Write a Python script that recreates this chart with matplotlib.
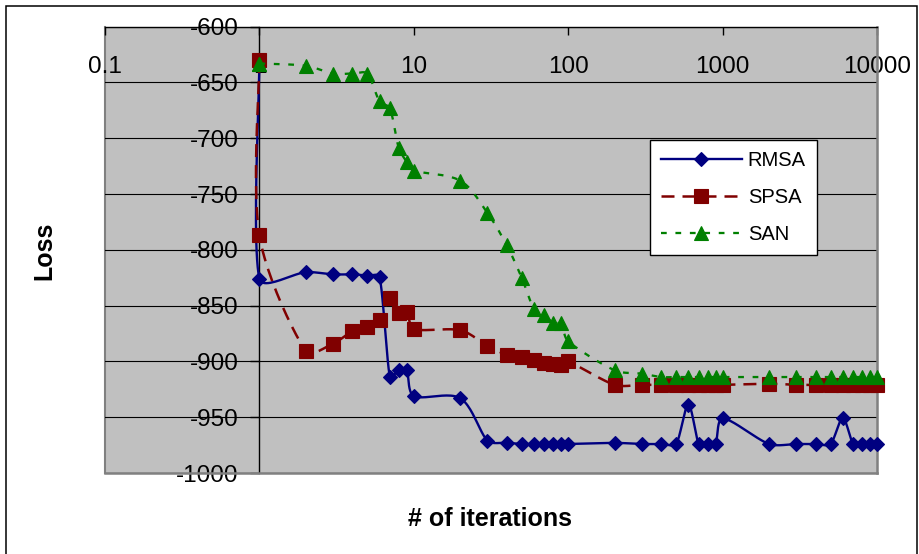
import numpy as np
import matplotlib
matplotlib.use("Agg")
import matplotlib.pyplot as plt
from matplotlib.lines import Line2D
from matplotlib.patches import Rectangle
from matplotlib.ticker import FixedLocator, FixedFormatter, NullLocator

plt.rcParams['font.family'] = ['Liberation Sans', 'DejaVu Sans']
plt.rcParams['axes.unicode_minus'] = False

# ---- data -------------------------------------------------------------
iterations = [1, 1, 2, 3, 4, 5, 6, 7, 8, 9, 10,
              20, 30, 40, 50, 60, 70, 80, 90, 100,
              200, 300, 400, 500, 600, 700, 800, 900, 1000,
              2000, 3000, 4000, 5000, 6000, 7000, 8000, 9000, 10000]

rmsa = [-630, -826, -820, -822, -822, -823, -824, -914, -908, -908, -931,
        -933, -971, -973, -974, -974, -974, -974, -974, -974,
        -973, -974, -974, -974, -939, -974, -974, -974, -951,
        -974, -974, -974, -974, -951, -974, -974, -974, -974]

spsa = [-630, -787, -891, -884, -873, -869, -863, -843, -857, -856, -871,
        -872, -886, -894, -896, -899, -901, -902, -903, -900,
        -921, -921, -921, -921, -921, -921, -921, -921, -921,
        -920, -921, -921, -921, -921, -921, -921, -921, -921]

san = [-633, -633, -635, -642, -642, -642, -667, -673, -709, -721, -729,
       -738, -767, -796, -825, -853, -858, -866, -866, -882,
       -908, -911, -914, -914, -914, -914, -914, -914, -914,
       -914, -914, -914, -914, -914, -914, -914, -914, -914]

series_names = ['RMSA', 'SPSA', 'SAN']
x_ticks = [0.1, 1, 10, 100, 1000, 10000]
x_tick_labels = ['0.1', '1', '10', '100', '1000', '10000']
y_ticks = [-1000, -950, -900, -850, -800, -750, -700, -650, -600]


def smooth_path(ax, xs, ys, n=24):
    """Bezier smoothing in display space; tangents are the shorter of the
    uniform Catmull-Rom and the chord-weighted estimate (limits overshoot)."""
    pts = ax.transData.transform(np.column_stack([xs, ys]).astype(float))
    m = len(pts)
    out = [pts[0]]
    t = np.linspace(0, 1, n)[1:, None]

    def tangent(i, seg_len):
        p_prev = pts[i - 1] if i > 0 else pts[i]
        p_next = pts[i + 1] if i + 1 < m else pts[i]
        l1 = np.hypot(*(pts[i] - p_prev))
        l2 = np.hypot(*(p_next - pts[i]))
        if l1 + l2 == 0:
            return np.zeros(2)
        uniform = (p_next - p_prev) / 6.0
        chord = (p_next - p_prev) * seg_len / (l1 + l2) / 3.0
        return uniform if np.hypot(*uniform) < np.hypot(*chord) else chord

    for i in range(m - 1):
        p1, p2 = pts[i], pts[i + 1]
        seg_len = np.hypot(*(p2 - p1))
        c1 = p1 + tangent(i, seg_len)
        c2 = p2 - tangent(i + 1, seg_len)
        seg = ((1 - t) ** 3) * p1 + 3 * ((1 - t) ** 2) * t * c1 \
            + 3 * (1 - t) * t ** 2 * c2 + t ** 3 * p2
        out.extend(seg)
    data = ax.transData.inverted().transform(np.array(out))
    return data[:, 0], data[:, 1]


fig = plt.figure(figsize=(9.2, 5.54), dpi=100)
fig.patch.set_facecolor('white')
ax = fig.add_axes([105 / 920, 81 / 554, 772 / 920, 446.3 / 554])
ax.set_facecolor('#C0C0C0')
ax.set_xscale('log')
ax.set_xlim(0.1, 10000)
ax.set_ylim(-1000, -600)

# spines: value axis crosses at x = 1, category axis along the top
ax.spines['left'].set_position(('data', 1))
ax.spines['left'].set_color('black')
ax.spines['left'].set_linewidth(1.0)
ax.spines['top'].set_color('black')
ax.spines['top'].set_linewidth(1.0)
for side in ('right', 'bottom'):
    ax.spines[side].set_color('#808080')
    ax.spines[side].set_linewidth(1.8)
ax.plot([0, 0], [0, 1], transform=ax.transAxes, color='#808080', lw=1.5,
        clip_on=False, zorder=0.4)

ax.set_yticks(y_ticks)
ax.tick_params(axis='y', direction='out', length=6.5, width=1.0,
               labelsize=17.5, pad=8.5, left=True, right=False)
ax.xaxis.set_major_locator(FixedLocator(x_ticks))
ax.xaxis.set_major_formatter(FixedFormatter(x_tick_labels))
ax.xaxis.set_minor_locator(NullLocator())
ax.tick_params(axis='x', which='major', top=True, bottom=False,
               labeltop=True, labelbottom=False, direction='in',
               length=6, width=1.0, labelsize=17.5, pad=-37)

ax.set_axisbelow(True)
ax.yaxis.grid(True, color='black', lw=0.8)
ax.xaxis.grid(False)

ax.set_ylabel('Loss', fontsize=18, fontweight='bold')
ax.yaxis.set_label_coords(-0.079, 0.497)
ax.yaxis.label.set_va('center')
ax.set_xlabel('# of iterations', fontsize=18, fontweight='bold')
ax.xaxis.set_label_position('bottom')
ax.xaxis.set_label_coords(0.4987, -0.103)
ax.xaxis.label.set_va('center')

styles = [
    dict(color='#000080', dashes=None, lw=1.7, marker='D', ms=7.4),
    dict(color='#800000', dashes=(5.2, 3.2), lw=1.8, marker='s', ms=10),
    dict(color='#008000', dashes=(2.5, 3.8), lw=1.65, marker='^', ms=10.5),
]

handles = []
for j, (vals, st) in enumerate(zip([rmsa, spsa, san], styles)):
    sx, sy = smooth_path(ax, iterations, vals)
    line, = ax.plot(sx, sy, color=st['color'], lw=st['lw'], zorder=3 + j,
                    solid_capstyle='butt', dash_capstyle='butt')
    if st['dashes']:
        line.set_dashes(st['dashes'])
    ax.plot(iterations, vals, ls='none', marker=st['marker'], ms=st['ms'],
            color=st['color'], mec=st['color'], mew=0.8, zorder=3.5 + j,
            clip_on=False)
    h = Line2D([], [], color=st['color'], lw=st['lw'], marker=st['marker'],
               ms=st['ms'], mec=st['color'], mew=0.8, dash_capstyle='butt')
    if st['dashes']:
        h.set_dashes(st['dashes'])
    handles.append(h)

leg = ax.legend(handles, series_names, loc='upper left',
                bbox_to_anchor=(0.706, 0.746), borderaxespad=0,
                frameon=True, fancybox=False, edgecolor='black',
                framealpha=1, fontsize=14.5, handlelength=4.0,
                handletextpad=0.3, borderpad=0.55, labelspacing=0.9,
                numpoints=1)
leg.get_frame().set_linewidth(1.0)
leg.set_zorder(10)

# chart border
fig.add_artist(Rectangle((6 / 920, -0.05), 911 / 920, 1.05 - 5.7 / 554,
                         transform=fig.transFigure, fill=False,
                         edgecolor='black', lw=1.1))

fig.savefig('out.png', dpi=100)
